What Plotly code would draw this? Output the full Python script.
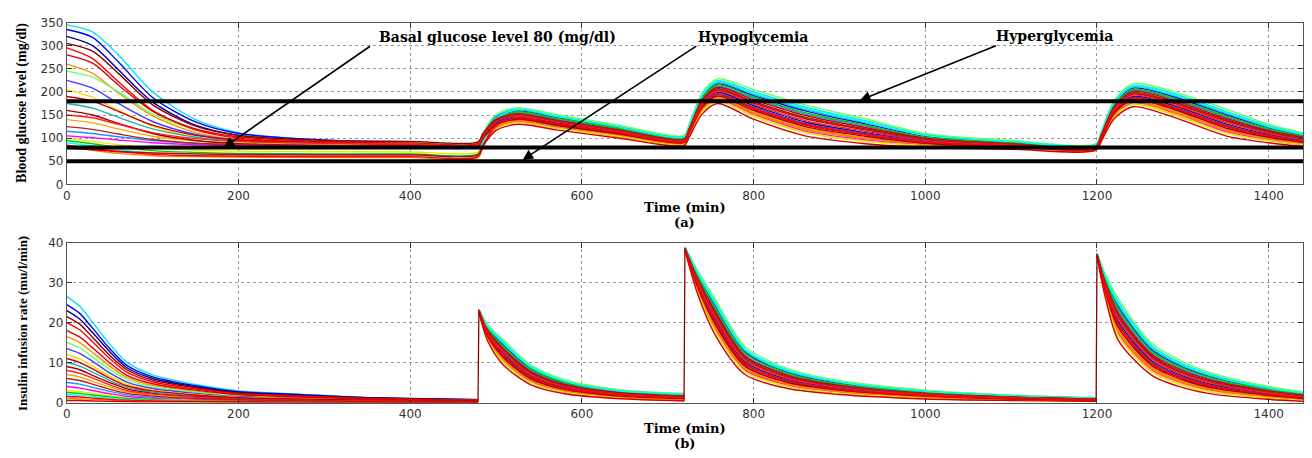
import plotly.graph_objects as go

# ---------------- data ----------------
T_G = [0, 30, 60, 100, 150, 200, 300, 400, 479, 485, 500, 525, 570, 640, 719,
       725, 740, 758, 800, 860, 930, 1000, 1100, 1199, 1205, 1220, 1242, 1290, 1350, 1400, 1440]

G01 = [345, 330, 280, 200, 140, 112, 95, 90, 88, 110, 148, 163, 148, 126, 104, 128, 194, 224, 200, 167, 138, 108, 93, 87, 112, 178, 214, 196, 158, 127, 110]
G02 = [335, 318, 265, 188, 135, 110, 96, 91, 90, 111, 145, 159, 145, 124, 102, 125, 188, 217, 192, 159, 131, 104, 91, 85, 110, 174, 208, 189, 151, 122, 106]
G03 = [320, 300, 248, 178, 128, 106, 92, 88, 86, 104, 134, 146, 133, 114, 94, 115, 173, 199, 170, 135, 112, 94, 85, 80, 102, 159, 190, 170, 131, 108, 95]
G04 = [305, 288, 240, 172, 126, 106, 95, 93, 92, 110, 140, 152, 138, 118, 97, 119, 180, 207, 179, 145, 120, 98, 87, 82, 105, 166, 198, 178, 140, 114, 100]
G05 = [295, 272, 222, 160, 118, 100, 90, 86, 85, 102, 131, 143, 130, 111, 92, 112, 168, 194, 163, 128, 107, 90, 83, 79, 100, 156, 186, 164, 125, 104, 92]
G06 = [280, 262, 215, 158, 120, 103, 93, 89, 88, 107, 138, 150, 136, 116, 96, 118, 177, 204, 176, 142, 118, 96, 86, 82, 105, 163, 195, 175, 137, 112, 98]
G07 = [260, 240, 198, 148, 112, 97, 88, 85, 84, 100, 126, 137, 125, 107, 88, 108, 162, 186, 154, 118, 99, 86, 80, 77, 97, 150, 178, 156, 117, 98, 88]
G08 = [245, 232, 200, 152, 118, 103, 94, 91, 90, 113, 151, 166, 151, 129, 106, 130, 198, 228, 205, 172, 142, 110, 95, 88, 114, 182, 218, 200, 163, 130, 112]
G09 = [225, 208, 175, 136, 108, 96, 89, 87, 86, 103, 132, 144, 131, 112, 93, 114, 170, 196, 167, 132, 110, 92, 84, 80, 102, 158, 188, 167, 128, 106, 94]
G10 = [205, 188, 160, 126, 102, 92, 86, 84, 83, 98, 124, 134, 122, 104, 86, 105, 157, 180, 147, 112, 93, 83, 78, 75, 95, 146, 173, 150, 111, 94, 85]
G11 = [190, 180, 158, 128, 106, 96, 90, 89, 88, 108, 140, 153, 139, 119, 98, 120, 182, 210, 183, 149, 123, 100, 88, 83, 107, 168, 201, 181, 143, 116, 102]
G12 = [175, 165, 145, 120, 102, 93, 88, 86, 85, 108, 146, 161, 147, 125, 103, 126, 191, 220, 195, 162, 134, 106, 92, 86, 111, 176, 211, 192, 154, 124, 108]
G13 = [160, 150, 132, 110, 95, 88, 84, 83, 82, 100, 129, 141, 128, 110, 91, 111, 166, 191, 160, 125, 104, 89, 82, 78, 99, 154, 183, 162, 122, 102, 91]
G14 = [150, 144, 130, 112, 99, 93, 89, 88, 87, 105, 136, 148, 135, 115, 95, 116, 175, 202, 173, 138, 115, 95, 86, 81, 103, 162, 193, 172, 134, 110, 97]
G15 = [140, 133, 120, 104, 94, 89, 86, 85, 84, 100, 128, 139, 127, 109, 90, 110, 164, 188, 157, 122, 101, 87, 81, 78, 98, 151, 180, 159, 119, 100, 89]
G16 = [125, 119, 109, 97, 89, 86, 83, 82, 82, 103, 137, 151, 137, 117, 97, 119, 179, 206, 178, 144, 119, 97, 87, 82, 105, 165, 197, 177, 139, 113, 99]
G17 = [115, 110, 103, 95, 89, 86, 84, 83, 83, 105, 141, 155, 141, 120, 99, 122, 184, 212, 186, 152, 126, 101, 89, 84, 108, 170, 203, 184, 146, 118, 103]
G18 = [105, 101, 96, 90, 86, 84, 82, 81, 81, 97, 124, 135, 123, 105, 87, 106, 159, 183, 151, 115, 96, 85, 79, 76, 96, 148, 176, 153, 114, 96, 86]
G19 = [100, 93, 86, 79, 74, 72, 71, 70, 70, 89, 121, 134, 122, 105, 87, 106, 158, 181, 149, 113, 94, 84, 78, 76, 96, 147, 174, 152, 112, 95, 86]
G20 = [95, 88, 80, 73, 69, 67, 66, 66, 66, 93, 139, 157, 143, 122, 100, 123, 186, 215, 189, 155, 128, 102, 90, 84, 108, 171, 205, 186, 148, 120, 104]
G21 = [90, 83, 75, 68, 65, 63, 62, 62, 62, 92, 142, 162, 147, 125, 103, 127, 192, 222, 197, 164, 135, 106, 93, 86, 111, 177, 212, 193, 156, 125, 108]
G22 = [85, 78, 71, 65, 62, 61, 60, 60, 60, 85, 127, 144, 131, 112, 92, 113, 169, 195, 165, 130, 108, 91, 83, 79, 101, 157, 187, 166, 127, 105, 93]
G23 = [80, 74, 67, 62, 60, 59, 58, 58, 58, 82, 122, 138, 126, 108, 89, 109, 162, 187, 155, 120, 100, 87, 80, 77, 97, 150, 179, 157, 118, 99, 89]
G24 = [78, 75, 71, 68, 66, 65, 64, 64, 64, 84, 117, 130, 118, 101, 84, 102, 152, 175, 141, 105, 88, 80, 76, 74, 93, 142, 168, 145, 105, 90, 82]

GLUCOSE = [G01, G02, G03, G04, G05, G06, G07, G08, G09, G10, G11, G12,
           G13, G14, G15, G16, G17, G18, G19, G20, G21, G22, G23, G24]

T_I = [0, 15, 30, 50, 70, 100, 150, 200, 270, 350, 479,
       480, 490, 508, 540, 580, 640, 719,
       720, 735, 755, 790, 840, 900, 1000, 1100, 1199,
       1200, 1210, 1225, 1264, 1302, 1341, 1400, 1440]

I01 = [26.5, 24.1, 20.1, 14.6, 10.1, 6.9, 4.5, 2.9, 2.1, 1.3, 0.8, 23.3, 19.2, 15.3, 9.1, 5.4, 3.1, 2.1, 38.8, 32.5, 25.3, 13.4, 8.1, 5.2, 2.9, 1.8, 1.1, 37.3, 31.5, 25.2, 14.2, 9.5, 6.5, 3.7, 2.5]
I02 = [24.5, 22.3, 18.6, 13.5, 9.3, 6.4, 4.2, 2.7, 2.0, 1.2, 0.7, 23.2, 18.7, 14.5, 8.5, 5.0, 2.8, 1.9, 38.7, 31.8, 24.2, 12.6, 7.5, 4.8, 2.7, 1.6, 1.0, 37.2, 30.8, 23.9, 13.2, 8.7, 5.9, 3.4, 2.2]
I03 = [23.0, 20.9, 17.5, 12.7, 8.7, 6.0, 3.9, 2.5, 1.8, 1.2, 0.7, 23.0, 17.3, 12.3, 6.8, 3.8, 2.0, 1.3, 38.5, 29.7, 21.1, 10.2, 5.8, 3.6, 1.9, 1.1, 0.7, 37.0, 28.7, 20.2, 10.4, 6.5, 4.2, 2.2, 1.4]
I04 = [21.5, 19.6, 16.3, 11.8, 8.2, 5.6, 3.7, 2.4, 1.7, 1.1, 0.6, 23.1, 17.9, 13.3, 7.5, 4.3, 2.4, 1.5, 38.6, 30.6, 22.4, 11.2, 6.5, 4.1, 2.2, 1.3, 0.8, 37.1, 29.6, 21.8, 11.6, 7.4, 4.9, 2.7, 1.7]
I05 = [20.0, 18.2, 15.2, 11.0, 7.6, 5.2, 3.4, 2.2, 1.6, 1.0, 0.6, 22.9, 16.9, 11.7, 6.3, 3.4, 1.8, 1.1, 38.4, 29.1, 20.2, 9.5, 5.3, 3.2, 1.7, 1.0, 0.6, 36.9, 28.1, 19.2, 9.6, 5.8, 3.7, 1.9, 1.1]
I06 = [18.0, 16.4, 13.7, 9.9, 6.8, 4.7, 3.1, 2.0, 1.4, 0.9, 0.5, 23.1, 17.7, 13.0, 7.3, 4.1, 2.3, 1.4, 38.6, 30.3, 22.0, 10.9, 6.3, 3.9, 2.1, 1.3, 0.8, 37.1, 29.3, 21.3, 11.2, 7.1, 4.7, 2.6, 1.6]
I07 = [16.5, 15.0, 12.5, 9.1, 6.3, 4.3, 2.8, 1.8, 1.3, 0.8, 0.5, 22.8, 16.3, 10.8, 5.5, 2.9, 1.5, 0.8, 38.3, 28.2, 18.8, 8.4, 4.5, 2.7, 1.3, 0.8, 0.5, 36.8, 27.2, 17.6, 8.4, 4.9, 2.9, 1.4, 0.8]
I08 = [15.0, 13.7, 11.4, 8.3, 5.7, 3.9, 2.6, 1.7, 1.2, 0.8, 0.5, 23.4, 19.5, 15.8, 9.5, 5.7, 3.3, 2.3, 38.9, 33.0, 26.0, 14.0, 8.5, 5.5, 3.1, 1.9, 1.2, 37.4, 32.0, 26.0, 14.8, 10.0, 6.9, 4.0, 2.7]
I09 = [13.5, 12.3, 10.3, 7.4, 5.1, 3.5, 2.3, 1.5, 1.1, 0.7, 0.4, 23.0, 17.1, 12.0, 6.5, 3.6, 1.9, 1.2, 38.5, 29.4, 20.6, 9.8, 5.5, 3.4, 1.8, 1.1, 0.7, 37.0, 28.4, 19.7, 10.0, 6.2, 3.9, 2.1, 1.3]
I10 = [12.0, 10.9, 9.1, 6.6, 4.6, 3.1, 2.0, 1.3, 1.0, 0.6, 0.4, 22.7, 15.9, 10.1, 5.0, 2.6, 1.2, 0.6, 38.2, 27.6, 17.9, 7.7, 4.0, 2.4, 1.1, 0.6, 0.4, 36.7, 26.6, 16.6, 7.6, 4.2, 2.4, 1.1, 0.5]
I11 = [11.0, 10.0, 8.4, 6.1, 4.2, 2.9, 1.9, 1.2, 0.9, 0.6, 0.3, 23.1, 18.1, 13.6, 7.8, 4.5, 2.5, 1.6, 38.6, 30.9, 22.9, 11.6, 6.8, 4.3, 2.3, 1.4, 0.9, 37.1, 29.9, 22.3, 12.0, 7.8, 5.2, 2.9, 1.9]
I12 = [10.0, 9.1, 7.6, 5.5, 3.8, 2.6, 1.7, 1.1, 0.8, 0.5, 0.3, 23.3, 18.9, 14.9, 8.8, 5.2, 3.0, 2.0, 38.8, 32.1, 24.7, 13.0, 7.8, 5.0, 2.8, 1.7, 1.1, 37.3, 31.1, 24.4, 13.6, 9.0, 6.2, 3.5, 2.3]
I13 = [9.0, 8.2, 6.8, 5.0, 3.4, 2.3, 1.5, 1.0, 0.7, 0.5, 0.3, 22.9, 16.7, 11.4, 6.0, 3.3, 1.7, 1.0, 38.4, 28.8, 19.7, 9.1, 5.0, 3.1, 1.6, 0.9, 0.6, 36.9, 27.8, 18.7, 9.2, 5.5, 3.4, 1.8, 1.0]
I14 = [8.0, 7.3, 6.1, 4.4, 3.0, 2.1, 1.4, 0.9, 0.6, 0.4, 0.2, 23.0, 17.5, 12.7, 7.0, 4.0, 2.2, 1.4, 38.5, 30.0, 21.5, 10.5, 6.0, 3.8, 2.0, 1.2, 0.8, 37.0, 29.0, 20.8, 10.8, 6.8, 4.4, 2.4, 1.5]
I15 = [7.0, 6.4, 5.3, 3.9, 2.7, 1.8, 1.2, 0.8, 0.6, 0.4, 0.2, 22.8, 16.5, 11.1, 5.8, 3.1, 1.6, 0.9, 38.3, 28.5, 19.3, 8.8, 4.8, 2.9, 1.5, 0.9, 0.5, 36.8, 27.5, 18.1, 8.8, 5.2, 3.2, 1.6, 0.9]
I16 = [6.0, 5.5, 4.6, 3.3, 2.3, 1.6, 1.0, 0.7, 0.5, 0.3, 0.2, 23.1, 17.8, 13.2, 7.4, 4.2, 2.3, 1.5, 38.6, 30.5, 22.2, 11.1, 6.4, 4.0, 2.2, 1.3, 0.8, 37.1, 29.5, 21.6, 11.4, 7.3, 4.8, 2.7, 1.7]
I17 = [5.0, 4.6, 3.8, 2.8, 1.9, 1.3, 0.9, 0.6, 0.4, 0.3, 0.2, 23.2, 18.3, 13.9, 8.0, 4.7, 2.6, 1.7, 38.7, 31.2, 23.3, 11.9, 7.0, 4.5, 2.4, 1.5, 0.9, 37.2, 30.2, 22.9, 12.4, 8.1, 5.4, 3.0, 2.0]
I18 = [4.0, 3.6, 3.0, 2.2, 1.5, 1.0, 0.7, 0.4, 0.3, 0.2, 0.1, 22.8, 16.1, 10.4, 5.3, 2.7, 1.3, 0.7, 38.3, 27.9, 18.4, 8.1, 4.3, 2.5, 1.2, 0.7, 0.4, 36.8, 26.9, 17.1, 8.0, 4.6, 2.7, 1.3, 0.7]
I19 = [3.0, 2.7, 2.3, 1.7, 1.1, 0.8, 0.5, 0.3, 0.2, 0.2, 0.1, 22.7, 16.0, 10.3, 5.1, 2.6, 1.3, 0.6, 38.2, 27.7, 18.1, 7.8, 4.1, 2.4, 1.2, 0.7, 0.4, 36.7, 26.7, 16.8, 7.8, 4.4, 2.5, 1.2, 0.6]
I20 = [2.5, 2.3, 1.9, 1.4, 1.0, 0.7, 0.4, 0.3, 0.2, 0.1, 0.1, 23.2, 18.5, 14.2, 8.3, 4.8, 2.7, 1.8, 38.7, 31.5, 23.8, 12.3, 7.3, 4.6, 2.6, 1.6, 1.0, 37.2, 30.5, 23.4, 12.8, 8.4, 5.7, 3.2, 2.1]
I21 = [2.0, 1.8, 1.5, 1.1, 0.8, 0.5, 0.3, 0.2, 0.2, 0.1, 0.1, 23.3, 19.0, 15.0, 8.9, 5.3, 3.0, 2.1, 38.8, 32.3, 24.9, 13.2, 7.9, 5.1, 2.8, 1.7, 1.1, 37.3, 31.3, 24.7, 13.8, 9.2, 6.3, 3.6, 2.4]
I22 = [1.5, 1.4, 1.1, 0.8, 0.6, 0.4, 0.3, 0.2, 0.1, 0.1, 0.0, 23.0, 17.0, 11.9, 6.4, 3.5, 1.9, 1.1, 38.5, 29.3, 20.4, 9.7, 5.4, 3.3, 1.7, 1.0, 0.6, 37.0, 28.3, 19.5, 9.8, 6.0, 3.8, 2.0, 1.2]
I23 = [1.0, 0.9, 0.8, 0.6, 0.4, 0.3, 0.2, 0.1, 0.1, 0.1, 0.0, 22.8, 16.4, 10.9, 5.6, 3.0, 1.5, 0.8, 38.3, 28.3, 19.0, 8.5, 4.6, 2.8, 1.4, 0.8, 0.5, 36.8, 27.3, 17.8, 8.6, 5.0, 3.0, 1.5, 0.8]
I24 = [0.5, 0.5, 0.4, 0.3, 0.2, 0.1, 0.1, 0.1, 0.0, 0.0, 0.0, 22.6, 15.5, 9.5, 4.5, 2.2, 1.0, 0.4, 38.1, 27.0, 17.0, 7.0, 3.5, 2.0, 0.9, 0.5, 0.3, 36.6, 26.0, 15.5, 6.8, 3.6, 1.9, 0.8, 0.3]

INSULIN = [I01, I02, I03, I04, I05, I06, I07, I08, I09, I10, I11, I12,
           I13, I14, I15, I16, I17, I18, I19, I20, I21, I22, I23, I24]

COLORS = ['#00e5ee', '#0000ff', '#00008b', '#8b0000', '#ff0000', '#e00000',
          '#ff8c00', '#66ff66', '#4040ff', '#ffd700', '#cc0000', '#20b2aa',
          '#a00000', '#ff2020', '#ffa500', '#b22222', '#1e90ff', '#ff00ff',
          '#e8e800', '#00cc00', '#00ffff', '#ff0000', '#ff7f00', '#d40000']
REDS = {'#8b0000', '#ff0000', '#e00000', '#cc0000', '#a00000', '#ff2020', '#b22222', '#d40000'}

THRESHOLDS = [180, 80, 50]
SEG_STARTS = [480, 720, 1200]
X_TICKS = [0, 200, 400, 600, 800, 1000, 1200, 1400]
G_TICKS = [0, 50, 100, 150, 200, 250, 300, 350]
I_TICKS = [0, 10, 20, 30, 40]

# ---------------- figure ----------------
W, H = 1312, 458
def px(x):
    return x / W
def py(y):
    return 1 - y / H

order = sorted(range(len(COLORS)), key=lambda i: COLORS[i] in REDS)

fig = go.Figure()
for i in order:
    fig.add_trace(go.Scatter(
        x=T_G, y=GLUCOSE[i], mode='lines', xaxis='x', yaxis='y',
        line=dict(color=COLORS[i], width=1.4, shape='spline', smoothing=0.8),
        showlegend=False, hoverinfo='skip'))

def split_segments(t, v):
    xs, ys = [], []
    for a, b in zip(t, v):
        if a in SEG_STARTS:
            xs.append(None)
            ys.append(None)
        xs.append(a)
        ys.append(b)
    return xs, ys

for i in order:
    xs, ys = split_segments(T_I, INSULIN[i])
    fig.add_trace(go.Scatter(
        x=xs, y=ys, mode='lines', xaxis='x2', yaxis='y2', connectgaps=False,
        line=dict(color=COLORS[i], width=1.4, shape='spline', smoothing=0.8),
        showlegend=False, hoverinfo='skip'))

last = order[-1]
jx, jy = [], []
for s in SEG_STARTS:
    k = T_I.index(s)
    jx += [T_I[k - 1], T_I[k], None]
    jy += [INSULIN[last][k - 1], INSULIN[last][k], None]
fig.add_trace(go.Scatter(x=jx, y=jy, mode='lines', xaxis='x2', yaxis='y2',
                         line=dict(color='#8b0000', width=1.3),
                         showlegend=False, hoverinfo='skip'))

for th in THRESHOLDS:
    fig.add_shape(type='line', xref='x domain', yref='y', x0=0, x1=1, y0=th, y1=th,
                  line=dict(color='black', width=4), layer='above')

XDOM = [px(63), px(1303)]
axis_common = dict(
    showline=True, linecolor='#555', linewidth=1, mirror='allticks',
    ticks='inside', ticklen=5, tickcolor='#333',
    showgrid=True, gridcolor='#9a9a9a', griddash='dot', gridwidth=1,
    zeroline=False, tickfont=dict(family='DejaVu Sans', size=12, color='#333'),
)

fig.update_layout(
    width=W, height=H, margin=dict(l=0, r=0, t=0, b=0),
    paper_bgcolor='white', plot_bgcolor='white', showlegend=False,
    xaxis=dict(domain=XDOM, range=[0, 1440], tickvals=X_TICKS, anchor='y', **axis_common),
    yaxis=dict(domain=[py(183), py(16)], range=[0, 350], tickvals=G_TICKS, anchor='x', **axis_common),
    xaxis2=dict(domain=XDOM, range=[0, 1440], tickvals=X_TICKS, anchor='y2', **axis_common),
    yaxis2=dict(domain=[py(408), py(243)], range=[0, 40], tickvals=I_TICKS, anchor='x2', **axis_common),
)

title_font = dict(family='DejaVu Serif', size=13, color='black')
ann = []
for txt, y0 in [('(a)', 207), ('(b)', 435)]:
    ann.append(dict(x=px(683), y=py(y0), xref='paper', yref='paper', showarrow=False,
                    xanchor='center', yanchor='middle',
                    text='<b>Time (min)</b>', font=title_font))
    ann.append(dict(x=px(683), y=py(y0 + 15), xref='paper', yref='paper', showarrow=False,
                    xanchor='center', yanchor='middle',
                    text='<b>%s</b>' % txt, font=title_font))
ann.append(dict(x=px(18), y=py(99), xref='paper', yref='paper', showarrow=False, textangle=-90,
                xanchor='center', yanchor='middle',
                text='<b>Blood glucose level (mg/dl)</b>',
                font=dict(family='Liberation Serif', size=14, color='black')))
ann.append(dict(x=px(18), y=py(326), xref='paper', yref='paper', showarrow=False, textangle=-90,
                xanchor='center', yanchor='middle',
                text='<b>Insulin infusion rate (mu/l/min)</b>',
                font=dict(family='Liberation Serif', size=13, color='black')))

label_font = dict(family='DejaVu Serif', size=14, color='black')
labels = [
    ('Basal glucose level 80 (mg/dl)', 502, 318, 355, 301, 183, 80),
    ('Hypoglycemia', 799, 318, 735, 301, 531, 53),
    ('Hyperglycemia', 1150, 320, 1084, 301, 924, 182),
]
for text, tx, ty, ax, ay, hx, hy in labels:
    ann.append(dict(x=tx, y=ty, xref='x', yref='y', showarrow=False,
                    xanchor='center', yanchor='middle',
                    text='<b>%s</b>' % text, font=label_font))
    ann.append(dict(x=hx, y=hy, ax=ax, ay=ay, xref='x', yref='y', axref='x', ayref='y',
                    text='', showarrow=True, arrowhead=2, arrowsize=1.3, arrowwidth=1.6,
                    arrowcolor='black', standoff=0))
fig.update_layout(annotations=ann)

fig.write_html('out.html')
